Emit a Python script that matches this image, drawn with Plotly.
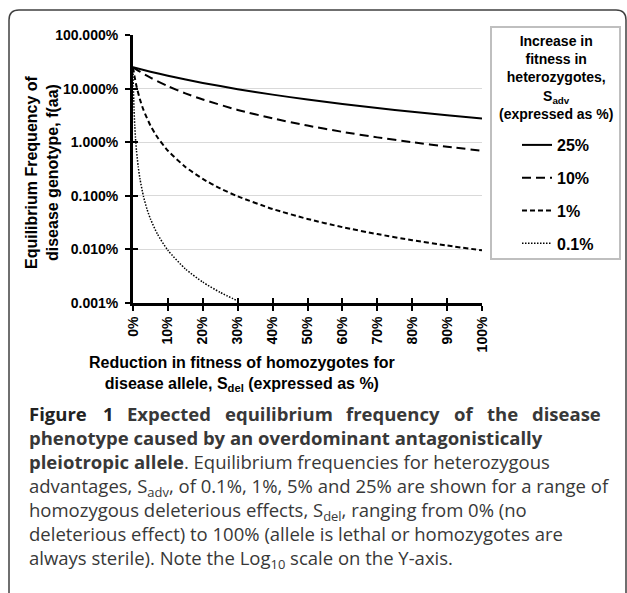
import plotly.graph_objects as go

# ---------------- data ----------------
series_names = ["25%", "10%", "1%", "0.1%"]

sdel_25 = [0, 0.05, 0.1, 0.2, 0.3, 0.4, 0.5, 0.6, 0.7, 0.8, 0.9, 1.0]
f_25 = [0.25, 0.2066, 0.1736, 0.1276, 0.0977, 0.0772, 0.0625, 0.0517, 0.0434, 0.0370, 0.0319, 0.0278]

sdel_10 = [0, 0.02, 0.05, 0.1, 0.15, 0.2, 0.3, 0.4, 0.5, 0.6, 0.7, 0.8, 0.9, 1.0]
f_10 = [0.25, 0.2066, 0.16, 0.1111, 0.0816, 0.0625, 0.04, 0.0278, 0.0204, 0.0156, 0.0123, 0.0100, 0.00826, 0.00694]

sdel_1 = [0, 0.005, 0.01, 0.02, 0.03, 0.05, 0.07, 0.1, 0.15, 0.2, 0.25, 0.3, 0.4, 0.5, 0.6, 0.7, 0.8, 0.9, 1.0]
f_1 = [0.25, 0.16, 0.1111, 0.0625, 0.04, 0.0204, 0.01235, 0.00694, 0.00346, 0.002066, 0.001372, 0.000977,
       0.000567, 0.00037, 0.00026, 0.000193, 0.0001487, 0.0001181, 0.0000961]

sdel_01 = [0, 0.0005, 0.001, 0.002, 0.003, 0.005, 0.007, 0.01, 0.015, 0.02, 0.03, 0.04, 0.05, 0.07, 0.1,
           0.15, 0.2, 0.25, 0.3]
f_01 = [0.25, 0.16, 0.1111, 0.0625, 0.04, 0.0204, 0.01235, 0.00694, 0.00346, 0.002066, 0.000977, 0.000567,
        0.00037, 0.000193, 0.0000961, 0.0000433, 0.0000245, 0.00001575, 0.00001096]

x_ticks = [0, 0.1, 0.2, 0.3, 0.4, 0.5, 0.6, 0.7, 0.8, 0.9, 1.0]
y_ticks = [0.00001, 0.0001, 0.001, 0.01, 0.1, 1.0]

legend_title = "Increase in<br>fitness in<br>heterozygotes,<br>S<sub>adv</sub><br>(expressed as %)"
x_title = "Reduction in fitness of homozygotes for<br>disease allele, S<sub>del</sub> (expressed as %)"
y_title = "Equilibrium Frequency of<br>disease genotype, f(aa)"

caption_line1_words = ["Figure", "1", "Expected", "equilibrium", "frequency", "of", "the", "disease"]
caption_lines = [
    "<b>phenotype caused by an overdominant antagonistically</b>",
    "<b>pleiotropic allele</b>. Equilibrium frequencies for heterozygous",
    "advantages, S<sub>adv</sub>, of 0.1%, 1%, 5% and 25% are shown for a range of",
    "homozygous deleterious effects, S<sub>del</sub>, ranging from 0% (no",
    "deleterious effect) to 100% (allele is lethal or homozygotes are",
    "always sterile). Note the Log<sub>10</sub> scale on the Y-axis.",
]

# ---------------- layout geometry (screen pixels) ----------------
W, H = 627, 593
L, R, T, B = 133, 145, 35, 290
PW, PH = W - L - R, H - T - B


def px(xp):
    return (xp - L) / PW


def py(yp):
    return (H - B - yp) / PH


FONT = "Liberation Sans, Arial, sans-serif"
CAP_FONT = "Open Sans, sans-serif"
CAP_SIZE = 18.5
CAP_COLOR = "#383838"

# legend box (screen pixels)
LB_X0, LB_X1, LB_Y0, LB_Y1 = 491, 620, 27, 259

styles = [
    dict(dash="solid", width=2),
    dict(dash="9px,5px", width=2),
    dict(dash="5px,3px", width=2),
    dict(dash="1.5px,1.5px", width=1.5),
]
xs = [sdel_25, sdel_10, sdel_1, sdel_01]
ys = [f_25, f_10, f_1, f_01]

fig = go.Figure()
for name, x, y, st in zip(series_names, xs, ys, styles):
    fig.add_trace(go.Scatter(
        x=x, y=y, name=name, mode="lines", legendgroup=name,
        line=dict(color="black", width=st["width"], dash=st["dash"], shape="spline", smoothing=0.6),
    ))

# invisible trace for the overlaid axes that draw the inner half of the crossing ticks
fig.add_trace(go.Scatter(x=[0.5], y=[0.001], xaxis="x2", yaxis="y2", mode="markers",
                         marker=dict(opacity=0), showlegend=False, hoverinfo="skip"))

fig.update_layout(
    width=W, height=H,
    margin=dict(l=L, r=R, t=T, b=B, pad=0),
    paper_bgcolor="white", plot_bgcolor="white",
    font=dict(family=FONT, color="black"),
    showlegend=True,
    legend=dict(
        x=px(LB_X0), y=py(128), xanchor="left", yanchor="top",
        borderwidth=0, bgcolor="rgba(0,0,0,0)",
        font=dict(size=16, family=FONT, color="black", weight="bold"),
        tracegroupgap=9, itemwidth=30, indentation=26,
    ),
    xaxis=dict(
        range=[0, 1], tickvals=x_ticks, tickformat=".0%", tickangle=-90,
        showgrid=False, zeroline=False,
        showline=True, linecolor="black", linewidth=3,
        ticks="outside", ticklen=5, tickwidth=2, tickcolor="black",
        tickfont=dict(size=14, family=FONT, weight="bold"),
    ),
    yaxis=dict(
        type="log", range=[-5, 0], tickvals=y_ticks, tickformat=".3%",
        showgrid=True, gridcolor="#d9d9d9", gridwidth=1, zeroline=False,
        showline=True, linecolor="black", linewidth=3,
        ticks="outside", ticklen=5, tickwidth=2, tickcolor="black",
        ticklabelstandoff=4,
        tickfont=dict(size=14, family=FONT, weight="bold"),
    ),
    xaxis2=dict(overlaying="x", anchor="y2", range=[0, 1], tickvals=x_ticks, showticklabels=False,
                ticks="inside", ticklen=5, tickwidth=2, tickcolor="black",
                showgrid=False, zeroline=False, showline=False, side="bottom"),
    yaxis2=dict(overlaying="y", anchor="x2", type="log", range=[-5, 0], tickvals=y_ticks,
                showticklabels=False, ticks="inside", ticklen=5, tickwidth=2, tickcolor="black",
                showgrid=False, zeroline=False, showline=False, side="left"),
)

annotations = []
# legend heading
annotations.append(dict(
    xref="paper", yref="paper", x=px((LB_X0 + LB_X1) / 2), y=py(77), xanchor="center", yanchor="middle",
    text="<b>" + legend_title + "</b>", showarrow=False, align="center",
    font=dict(size=14, family=FONT, color="black"),
))
# axis titles
annotations.append(dict(
    xref="paper", yref="paper", x=px(242), y=py(374), xanchor="center", yanchor="middle",
    text="<b>" + x_title + "</b>", showarrow=False, align="center",
    font=dict(size=16, family=FONT, color="black"),
))
annotations.append(dict(
    xref="paper", yref="paper", x=px(42), y=py(172), xanchor="center", yanchor="middle",
    text="<b>" + y_title + "</b>", showarrow=False, align="center", textangle=-90,
    font=dict(size=16, family=FONT, color="black"),
))

# caption line 1 (justified, word by word)
word_x = [27, 101, 125, 223, 344, 452, 485, 603]
cap_y1 = 413
for i, (w, xw) in enumerate(zip(caption_line1_words, word_x)):
    last = i == len(caption_line1_words) - 1
    annotations.append(dict(
        xref="paper", yref="paper", x=px(xw), y=py(cap_y1),
        xanchor="right" if last else "left", yanchor="middle",
        text="<b>" + w + "</b>", showarrow=False,
        font=dict(size=CAP_SIZE, family=CAP_FONT, color="#222222" if i < 2 else CAP_COLOR),
    ))
# rest of the caption as one block (line spacing 1.3em ~ 24px)
annotations.append(dict(
    xref="paper", yref="paper", x=px(27), y=py(499), xanchor="left", yanchor="middle",
    text="<br>".join(caption_lines), showarrow=False, align="left",
    font=dict(size=CAP_SIZE, family=CAP_FONT, color=CAP_COLOR),
))
fig.update_layout(annotations=annotations)

# legend box
fig.add_shape(type="rect", xref="paper", yref="paper",
              x0=px(LB_X0), x1=px(LB_X1), y0=py(LB_Y1), y1=py(LB_Y0),
              line=dict(color="#bfbfbf", width=2), fillcolor="rgba(0,0,0,0)", layer="below")

# outer rounded frame (open at the bottom)
x0, x1, y0, r = 9, 626, 10, 10
path = (f"M {px(x0)},{py(H + 5)} L {px(x0)},{py(y0 + r)} "
        f"Q {px(x0)},{py(y0)} {px(x0 + r)},{py(y0)} "
        f"L {px(x1 - r)},{py(y0)} Q {px(x1)},{py(y0)} {px(x1)},{py(y0 + r)} "
        f"L {px(x1)},{py(H + 5)}")
fig.add_shape(type="path", path=path, xref="paper", yref="paper",
              line=dict(color="#404040", width=1.5), layer="above")

fig.write_html("out.html", config={"displayModeBar": False},
               post_script="document.body.style.margin='0';")
